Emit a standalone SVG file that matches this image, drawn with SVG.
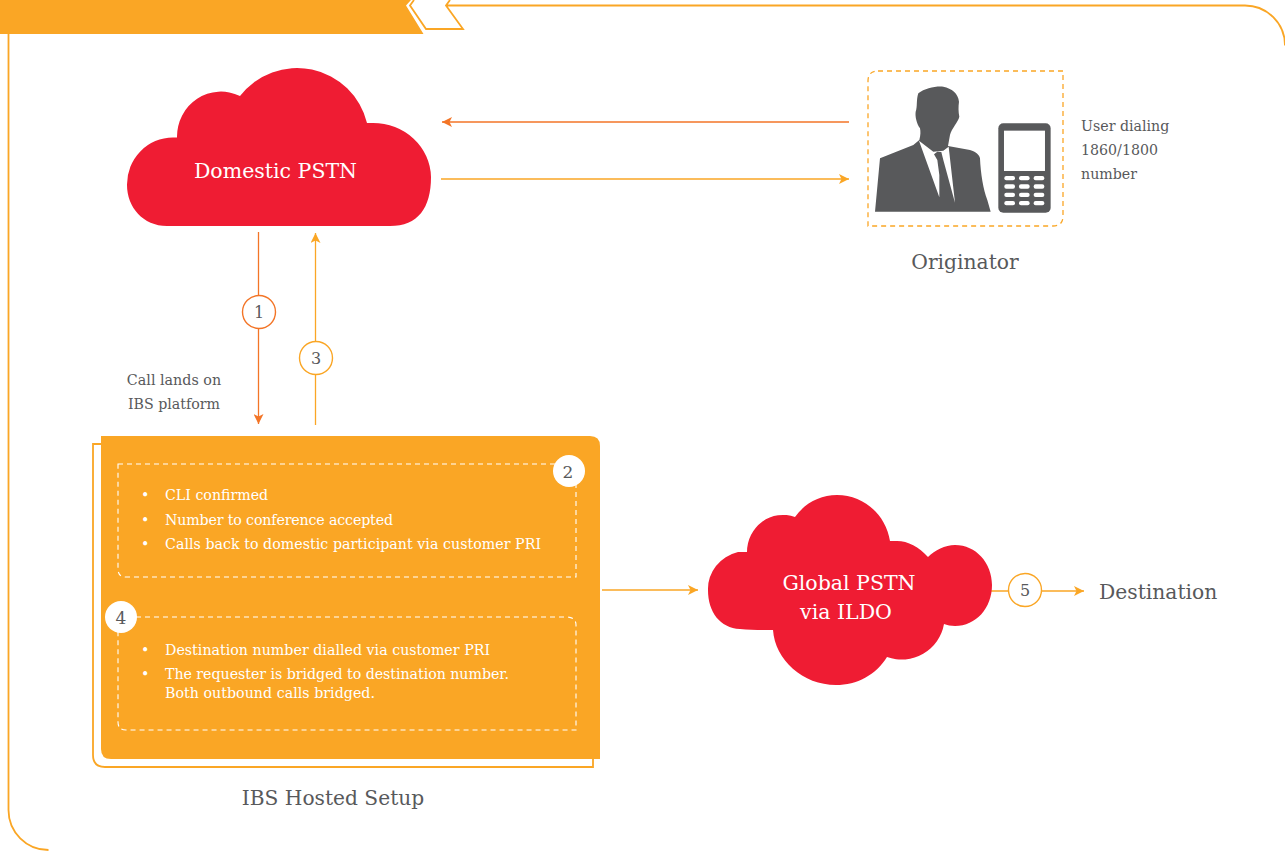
<svg xmlns="http://www.w3.org/2000/svg" width="1285" height="851" viewBox="0 0 1285 851">
<style>
text{font-family:"DejaVu Serif","Liberation Serif",serif;fill:#58595b}
.w{fill:#fff}
.ln{fill:none;stroke:#faa625;stroke-width:1.8}
.dw{fill:none;stroke:#fff;stroke-width:1.1;stroke-dasharray:5 4}
.cloud{fill:#ef1c33}
.a1{fill:none;stroke:#faa625;stroke-width:1.3}
.a2{fill:none;stroke:#f37527;stroke-width:1.3}
.c1{fill:#fff;stroke:#faa625;stroke-width:1.4}
.c2{fill:#fff;stroke:#f37527;stroke-width:1.4}
.k{fill:#fff}
</style>
<defs>
<marker id="mY" markerWidth="11" markerHeight="10" refX="10" refY="5" orient="auto" markerUnits="userSpaceOnUse"><path d="M0 0L10 5L0 10L2.5 5Z" fill="#faa625"/></marker>
<marker id="mO" markerWidth="11" markerHeight="10" refX="10" refY="5" orient="auto" markerUnits="userSpaceOnUse"><path d="M0 0L10 5L0 10L2.5 5Z" fill="#f37527"/></marker>
</defs>
<g id="frame">
<path d="M0 0H411L406 5.500L423.500 34H0Z" fill="#faa625"/>
<path class="ln" d="M414 0L410 5.500L426 29H463L446 5.500L450 0M446 5.500H1245A40 40 0 0 1 1285 45.500M8.500 34V810A40 40 0 0 0 48.500 850"/>
</g>
<g id="connectors">
<path class="a2" marker-end="url(#mO)" d="M849 122H442"/>
<path class="a1" marker-end="url(#mY)" d="M441 179H849"/>
<path class="a2" marker-end="url(#mO)" d="M258.500 232V424"/>
<path class="a1" marker-end="url(#mY)" d="M315.500 425V233"/>
<path class="a1" marker-end="url(#mY)" d="M602 590H698"/>
<path class="a1" marker-end="url(#mY)" d="M990 591H1084"/>
</g>
<g id="domestic-pstn">
<path class="cloud" d="M167 226C143 226 127 207 127 185A46 47 0 0 1 173 137.500H177A44 45 0 0 1 240 96A72 72 0 0 1 367 123H373A58 55 0 0 1 431 177C431 208 418 226 390 226Z"/>
<text class="w" x="275.500" y="178" font-size="20.500" text-anchor="middle">Domestic PSTN</text>
</g>
<g id="global-pstn">
<path class="cloud" d="M708 590A40 38 0 0 1 738 552H747A36 37 0 0 1 795 517C805 503 820 495 837 495C864 495 886 515 890 541L897 541C908 541 919 547 928 557C935 550 945 545 955 545C976 545 992 563 992 585C992 608 976 626 955 626C951 626 947 625 944 624A43 43 0 0 1 887 657C876 675 857 685 836 685C803 685 775 660 773 630C760 630 750 630 740 629C720 628 708 612 708 590Z"/>
<text class="w" x="849" y="590" font-size="20.500" text-anchor="middle">Global PSTN</text>
<text class="w" x="846" y="619" font-size="20.500" text-anchor="middle">via ILDO</text>
</g>
<g id="originator">
<path d="M878 71H1063V216Q1063 226 1053 226H868V81Q868 71 878 71Z" fill="none" stroke="#faa625" stroke-width="1.3" stroke-dasharray="5 4"/>
<g transform="translate(850 60) scale(.3333)">
<path fill="#58595b" d="M75 455L90 295L190 255L208 240C212 225 212 215 210 205C200 190 195 170 197 155C203 140 198 120 205 100C225 85 255 78 280 80C305 85 325 100 327 125C325 140 325 155 328 170C325 185 305 205 300 225L294 258L360 270C378 275 388 285 390 295C392 340 400 390 412 420L422 455Z"/>
<path fill="#fff" d="M207 242L268 412L268 345L262 300L252 283L262 275L274 276L280 300L315 428L296 260L280 272L250 275Z"/>
<rect x="445" y="190" width="157" height="268" rx="15" fill="#58595b"/>
<rect class="k" x="462" y="212" width="123" height="121"/>
<g class="k">
<rect x="463" y="348" width="32" height="13" rx="6"/><rect x="507" y="348" width="32" height="13" rx="6"/><rect x="551" y="348" width="32" height="13" rx="6"/>
<rect x="463" y="373" width="32" height="13" rx="6"/><rect x="507" y="373" width="32" height="13" rx="6"/><rect x="551" y="373" width="32" height="13" rx="6"/>
<rect x="463" y="398" width="32" height="13" rx="6"/><rect x="507" y="398" width="32" height="13" rx="6"/><rect x="551" y="398" width="32" height="13" rx="6"/>
<rect x="463" y="423" width="32" height="13" rx="6"/><rect x="507" y="423" width="32" height="13" rx="6"/><rect x="551" y="423" width="32" height="13" rx="6"/>
</g>
</g>
<text x="1081" y="131" font-size="14.200">User dialing</text>
<text x="1081" y="155" font-size="14.200">1860/1800</text>
<text x="1081" y="179" font-size="14.200">number</text>
<text x="965" y="269" font-size="20.300" text-anchor="middle">Originator</text>
</g>
<g id="step-1"><circle class="c2" cx="259" cy="312" r="16.500"/><text x="259" y="318" font-size="16" text-anchor="middle">1</text></g>
<g id="step-3"><circle class="c1" cx="316" cy="358" r="16.500"/><text x="316" y="364" font-size="16" text-anchor="middle">3</text></g>
<g id="call-lands"><text x="174" y="385" font-size="14.300" text-anchor="middle">Call lands on</text><text x="174" y="409" font-size="14.200" text-anchor="middle">IBS platform</text></g>
<g id="ibs-setup">
<path class="ln" d="M101 444H93V755Q93 767 105 767H593V759"/>
<path fill="#faa625" d="M101 436H590Q600 436 600 446V759H111Q101 759 101 749Z"/>
<path class="dw" d="M118 464H576V577H126Q118 577 118 569Z"/>
<path class="dw" d="M118 617H566Q576 617 576 625V730H126Q118 730 118 722Z"/>
<g font-size="14.200">
<text class="w" x="141" y="500">•</text><text class="w" x="165" y="500">CLI confirmed</text>
<text class="w" x="141" y="525">•</text><text class="w" x="165" y="525" textLength="228">Number to conference accepted</text>
<text class="w" x="141" y="549">•</text><text class="w" x="165" y="549" textLength="376">Calls back to domestic participant via customer PRI</text>
<text class="w" x="141" y="655">•</text><text class="w" x="165" y="655" textLength="325">Destination number dialled via customer PRI</text>
<text class="w" x="141" y="679">•</text><text class="w" x="165" y="679" textLength="344">The requester is bridged to destination number.</text>
<text class="w" x="165" y="698" textLength="210">Both outbound calls bridged.</text>
</g>
<text x="333" y="805" font-size="20.200" text-anchor="middle">IBS Hosted Setup</text>
</g>
<g id="step-2"><circle cx="569" cy="471" r="16" fill="#fff"/><text x="568" y="477.500" font-size="17" text-anchor="middle">2</text></g>
<g id="step-4"><circle cx="121" cy="617" r="16" fill="#fff"/><text x="121" y="623.500" font-size="17" text-anchor="middle">4</text></g>
<g id="step-5"><circle class="c1" cx="1025" cy="590" r="16.500"/><text x="1025" y="596" font-size="16" text-anchor="middle">5</text></g>
<g id="destination"><text x="1099" y="599" font-size="20.300">Destination</text></g>
</svg>
